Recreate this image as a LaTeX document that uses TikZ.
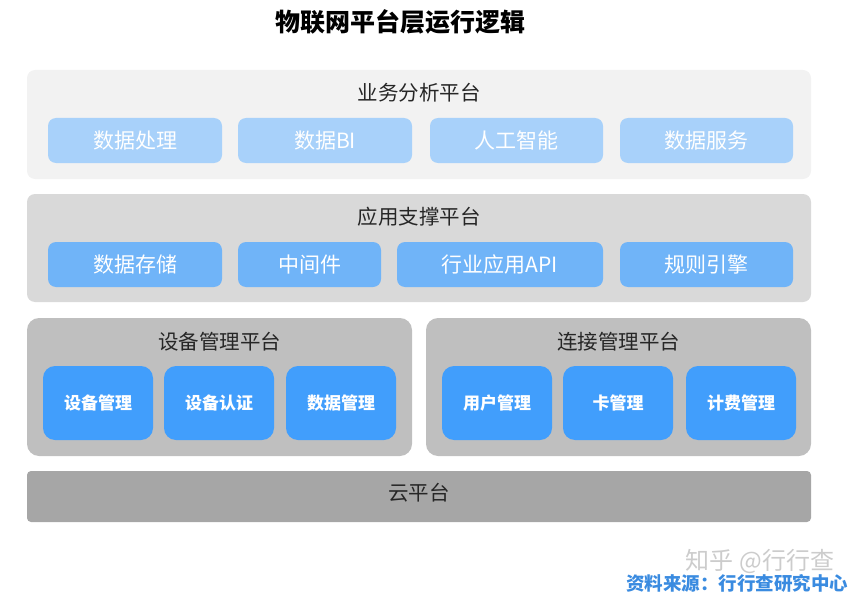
\documentclass[tikz,border=0pt]{standalone}
\usepackage{fontspec}
\setmainfont{Noto Sans CJK SC}
\usetikzlibrary{positioning}
\definecolor{layerA}{HTML}{F2F2F2}
\definecolor{layerB}{HTML}{D9D9D9}
\definecolor{layerC}{HTML}{BFBFBF}
\definecolor{layerD}{HTML}{A6A6A6}
\definecolor{boxA}{HTML}{A8D1FA}
\definecolor{boxB}{HTML}{70B4F8}
\definecolor{boxC}{HTML}{419EFC}
\definecolor{srcblue}{HTML}{3A8BE0}
\tikzset{
  layer/.style={rounded corners=8pt,inner sep=0pt},
  item/.style={rounded corners=8pt,inner sep=0pt,text=white,font=\fontsize{21}{23}\selectfont},
  smallitem/.style={item,rounded corners=12pt,fill=boxC,minimum width=110pt,minimum height=74pt,font=\fontsize{17}{20}\selectfont\bfseries},
  heading/.style={font=\fontsize{20.5}{23}\selectfont,text=black!85}
}
\begin{document}
\begin{tikzpicture}[x=1pt,y=-1pt]
      \useasboundingbox (0,0) rectangle (862,599);
      % title
      \node[font=\fontsize{25}{28}\selectfont\bfseries] (title) at (400,22) {物联网平台层运行逻辑};
      % business layer
      \node[layer,fill=layerA,minimum width=784pt,minimum height=109pt] (bizlayer) at (419,124.5) {};
      \node[heading] (bizhead) at (419,93) {业务分析平台};
      \node[item,fill=boxA,minimum width=174pt,minimum height=45pt] (proc) at (135,140.5) {数据处理};
      \node[item,fill=boxA,minimum width=174pt,minimum height=45pt] (bi) at (325,140.5) {数据BI};
      \node[item,fill=boxA,minimum width=173pt,minimum height=45pt] (ai) at (516.5,140.5) {人工智能};
      \node[item,fill=boxA,minimum width=173pt,minimum height=45pt] (service) at (706.5,140.5) {数据服务};
      % support layer
      \node[layer,fill=layerB,minimum width=784pt,minimum height=108pt] (suplayer) at (419,248) {};
      \node[heading] (suphead) at (419,217) {应用支撑平台};
      \node[item,fill=boxB,minimum width=174pt,minimum height=45pt] (store) at (135,264.5) {数据存储};
      \node[item,fill=boxB,minimum width=143pt,minimum height=45pt] (middle) at (309.5,264.5) {中间件};
      \node[item,fill=boxB,minimum width=206pt,minimum height=45pt] (api) at (500,264.5) {行业应用API};
      \node[item,fill=boxB,minimum width=173pt,minimum height=45pt] (rule) at (706.5,264.5) {规则引擎};
      % device / connection layers
      \node[layer,rounded corners=12pt,fill=layerC,minimum width=385pt,minimum height=138pt] (devlayer) at (219.5,387) {};
      \node[heading] (devhead) at (219.5,342) {设备管理平台};
      \node[smallitem] (devmgmt) at (98,403) {设备管理};
      \node[smallitem] (devauth) at (219,403) {设备认证};
      \node[smallitem] (datamgmt) at (341,403) {数据管理};
      \node[layer,rounded corners=12pt,fill=layerC,minimum width=385pt,minimum height=138pt] (conlayer) at (618.5,387) {};
      \node[heading] (conhead) at (618.5,342) {连接管理平台};
      \node[smallitem] (user) at (497,403) {用户管理};
      \node[smallitem] (card) at (618,403) {卡管理};
      \node[smallitem] (billing) at (741,403) {计费管理};
      % cloud
      \node[layer,rounded corners=4pt,fill=layerD,minimum width=784pt,minimum height=51pt] (cloud) at (419,496.5) {};
      \node[heading] (cloudhead) at (419,493) {云平台};
      % source
      \node[font=\fontsize{24}{26}\selectfont,text=black!20] (mark) at (760,561) {知乎 @行行查};
      \node[font=\fontsize{18.5}{20}\selectfont\bfseries,text=srcblue,anchor=east] (source) at (852,583) {资料来源：行行查研究中心};
\end{tikzpicture}
\end{document}
